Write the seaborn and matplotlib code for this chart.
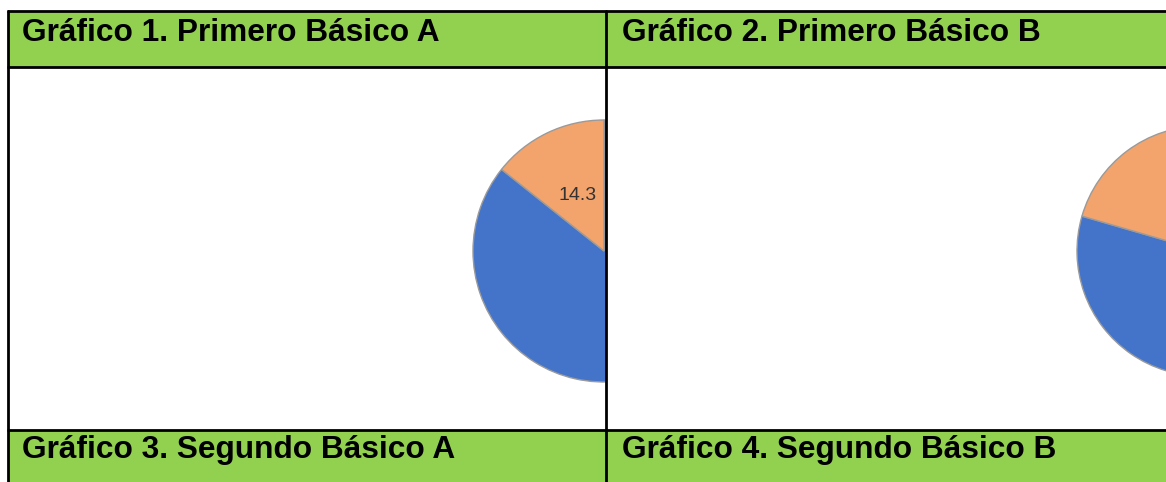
import matplotlib.pyplot as plt
import matplotlib.patches as patches
import seaborn as sns

sns.set_theme(style="white")
plt.rcParams["font.family"] = ["Liberation Sans", "DejaVu Sans"]

titles = [
    "Gráfico 1. Primero Básico A",
    "Gráfico 2. Primero Básico B",
    "Gráfico 3. Segundo Básico A",
    "Gráfico 4. Segundo Básico B",
]
# percent shares per pie, in Excel order (clockwise from 12 o'clock)
categories = ["Logrado", "No logrado"]
pie1_values = [85.7, 14.3]
pie2_values = [79.5, 20.5]

colors = ["#4474CA", "#F3A36C"]
green = "#92D050"

W, H = 1166, 482
fig = plt.figure(figsize=(W / 100, H / 100), dpi=100)
ax = fig.add_axes([0, 0, 1, 1])
ax.set_xlim(0, W)
ax.set_ylim(H, 0)
ax.axis("off")

# table cells (pixel coords, y down)
left, mid, right = 8, 606, 1175
top, head1, body_bot, bottom = 11, 67, 430, 490

ax.add_patch(patches.Rectangle((left, top), right - left, head1 - top, facecolor=green, edgecolor="none"))
ax.add_patch(patches.Rectangle((left, body_bot), right - left, bottom - body_bot, facecolor=green, edgecolor="none"))

# one axes per body cell so the pies get cut at the cell border
# (only the first pie shows its label in the screenshot)
pies = [
    (pie1_values, (left, mid), (604, 251), 131, "%.1f"),
    (pie2_values, (mid, W), (1202, 251), 125, None),
]
for values, (x0, x1), (cx, cy), radius, fmt in pies:
    pax = fig.add_axes([x0 / W, (H - body_bot) / H, (x1 - x0) / W, (body_bot - head1) / H])
    res = pax.pie(
        values,
        colors=colors,
        center=(cx, H - cy),
        radius=radius,
        startangle=90,
        counterclock=False,
        autopct=fmt,
        pctdistance=0.47,
        wedgeprops={"edgecolor": "#9A9A9A", "linewidth": 1},
        textprops={"fontsize": 14, "color": "#333333"},
    )
    for w in res[0]:
        w.set_clip_on(True)
    if fmt:
        for t in res[2]:
            t.set_clip_on(True)
    pax.set_xlim(x0, x1)
    pax.set_ylim(H - body_bot, H - head1)
    pax.set_aspect("auto")
    pax.axis("off")

# grid lines on top
lax = fig.add_axes([0, 0, 1, 1])
lax.set_xlim(0, W)
lax.set_ylim(H, 0)
lax.axis("off")
lw = 2
for y in [top, head1, body_bot]:
    lax.plot([left - 1, right], [y, y], color="black", lw=lw, solid_capstyle="butt")
lax.plot([left, left], [top, bottom], color="black", lw=lw)
lax.plot([mid, mid], [top, bottom], color="black", lw=lw)

text_pos = [(22, 33), (622, 33), (22, 450), (622, 450)]
for title, (x, y) in zip(titles, text_pos):
    lax.text(x, y, title, fontsize=22.8, fontweight="bold", color="black", ha="left", va="center")

fig.savefig("out.png", dpi=100, facecolor="white")
